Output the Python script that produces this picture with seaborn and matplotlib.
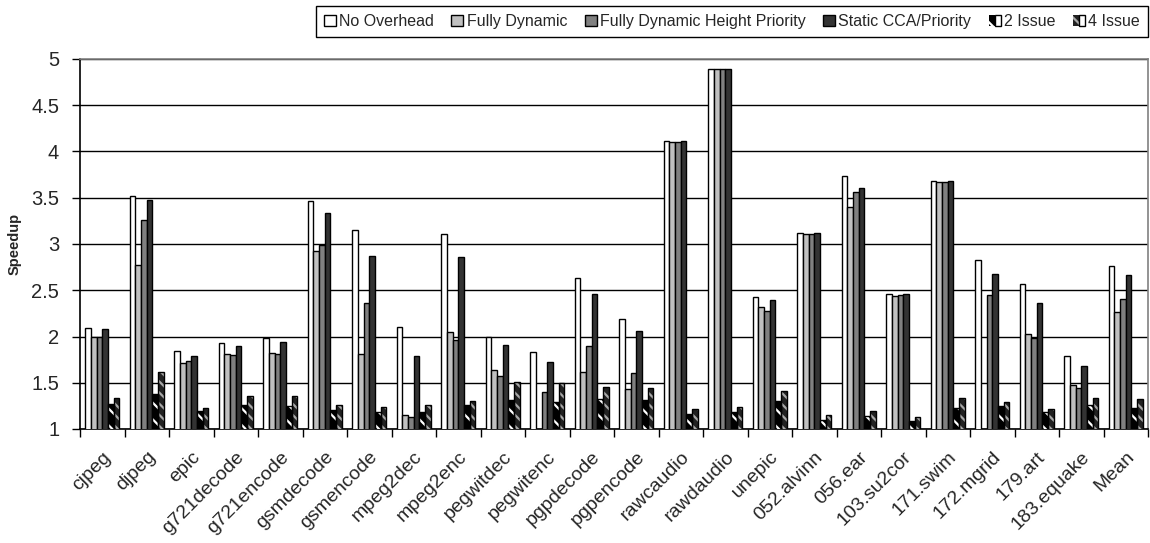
import numpy as np
import pandas as pd
import matplotlib
matplotlib.use("Agg")
import matplotlib.pyplot as plt
import seaborn as sns
from matplotlib.patches import Rectangle, Patch
from matplotlib.legend_handler import HandlerTuple

benchmarks = ["cjpeg", "djpeg", "epic", "g721decode", "g721encode", "gsmdecode",
              "gsmencode", "mpeg2dec", "mpeg2enc", "pegwitdec", "pegwitenc",
              "pgpdecode", "pgpencode", "rawcaudio", "rawdaudio", "unepic",
              "052.alvinn", "056.ear", "103.su2cor", "171.swim", "172.mgrid",
              "179.art", "183.equake", "Mean"]

no_overhead = [2.09, 3.52, 1.84, 1.93, 1.98, 3.46, 3.15, 2.10, 3.11, 2.00, 1.83,
               2.63, 2.19, 4.11, 4.89, 2.43, 3.12, 3.73, 2.46, 3.68, 2.83, 2.57, 1.79, 2.76]
fully_dynamic = [2.00, 2.77, 1.71, 1.81, 1.82, 2.92, 1.81, 1.15, 2.05, 1.64, np.nan,
                 1.62, 1.43, 4.10, 4.89, 2.32, 3.11, 3.40, 2.44, 3.67, np.nan, 2.03, 1.48, 2.27]
fully_dynamic_hp = [2.00, 3.26, 1.73, 1.80, 1.81, 2.99, 2.36, 1.13, 1.96, 1.57, 1.40,
                    1.90, 1.61, 4.10, 4.89, 2.28, 3.11, 3.56, 2.45, 3.67, 2.45, 1.98, 1.44, 2.41]
static_cca = [2.08, 3.48, 1.79, 1.90, 1.94, 3.33, 2.87, 1.79, 2.86, 1.91, 1.72,
              2.46, 2.06, 4.11, 4.89, 2.40, 3.12, 3.61, 2.46, 3.68, 2.68, 2.36, 1.68, 2.66]
issue2 = [1.27, 1.38, 1.20, 1.26, 1.25, 1.21, 1.18, 1.18, 1.26, 1.31, 1.29,
          1.32, 1.31, 1.16, 1.18, 1.30, 1.10, 1.14, 1.09, 1.23, 1.25, 1.18, 1.26, 1.23]
issue4 = [1.34, 1.62, 1.23, 1.36, 1.36, 1.26, 1.24, 1.26, 1.30, 1.51, 1.50,
          1.45, 1.44, 1.22, 1.24, 1.41, 1.15, 1.19, 1.13, 1.33, 1.29, 1.22, 1.34, 1.32]

series_names = ["No Overhead", "Fully Dynamic", "Fully Dynamic Height Priority",
                "Static CCA/Priority", "2 Issue", "4 Issue"]
series_values = [no_overhead, fully_dynamic, fully_dynamic_hp, static_cca, issue2, issue4]

face_colors = ["#ffffff", "#c0c0c0", "#808080", "#333333", "#000000", "#222222"]
hatch_specs = [None, None, None, None, ("\\\\", "#ffffff"), ("\\\\\\", "#a8a8a8")]

rows = []
for name, vals in zip(series_names, series_values):
    for b, v in zip(benchmarks, vals):
        rows.append({"Benchmark": b, "Series": name, "Speedup": v})
df = pd.DataFrame(rows)

sns.set_theme(style="white")
plt.rcParams["font.family"] = ["Liberation Sans", "DejaVu Sans"]
plt.rcParams["hatch.linewidth"] = 1.6

fig = plt.figure(figsize=(11.5, 5.43), dpi=100)
ax = fig.add_axes([80 / 1150, 1 - 429 / 543, 1068 / 1150, (429 - 59) / 543])

sns.barplot(data=df, x="Benchmark", y="Speedup", hue="Series",
            order=benchmarks, hue_order=series_names,
            palette=dict(zip(series_names, face_colors)), saturation=1,
            width=0.76, gap=0, edgecolor="black", linewidth=1.0,
            errorbar=None, legend=False, ax=ax, zorder=3)

for cont, spec in zip(ax.containers, hatch_specs):
    if spec is None:
        continue
    hatch, hcol = spec
    for bar in cont:
        if np.isnan(bar.get_height()):
            continue
        bar.set_hatch(hatch)
        bar.set_edgecolor(hcol)
        bar.set_linewidth(0)
        ax.add_patch(Rectangle(bar.get_xy(), bar.get_width(), bar.get_height(),
                               fill=False, edgecolor="black", linewidth=1.0, zorder=4))

ax.set_ylim(1, 5)
ax.set_xlim(-0.5, len(benchmarks) - 0.5)
yt = np.arange(1, 5.01, 0.5)
ax.set_yticks(yt)
ax.set_yticklabels([f"{v:g}" for v in yt], fontsize=14.5)
ax.yaxis.grid(True, color="black", linewidth=1.0, zorder=0)
ax.set_axisbelow(True)

ax.set_xticks(range(len(benchmarks)))
ax.set_xticklabels(benchmarks, rotation=45, ha="right", rotation_mode="anchor", fontsize=14)
ax.set_xticks(np.arange(-0.5, len(benchmarks), 1.0), minor=True)
ax.tick_params(axis="x", which="major", length=0, pad=14)
ax.tick_params(axis="x", which="minor", length=6, width=1, color="black", direction="out", bottom=True)
ax.tick_params(axis="y", which="major", length=6, width=1, color="black", direction="out", left=True, pad=9)
ax.set_xlabel("")
ax.set_ylabel("Speedup", fontsize=10.5, fontweight="bold", labelpad=7)

ax.spines["left"].set_color("black")
ax.spines["bottom"].set_color("black")
ax.spines["top"].set_color("#808080")
ax.spines["right"].set_color("#808080")
for s in ax.spines.values():
    s.set_linewidth(1.2)
    s.set_visible(True)

handles = []
for name, fc, spec in zip(series_names, face_colors, hatch_specs):
    if spec is None:
        handles.append(Patch(facecolor=fc, edgecolor="black", linewidth=1.0))
    else:
        handles.append((Patch(facecolor=fc, edgecolor=spec[1], hatch=spec[0], linewidth=0),
                        Patch(fill=False, edgecolor="black", linewidth=1.0)))

leg = fig.legend(handles=handles, labels=series_names, loc="upper right",
                 bbox_to_anchor=(1148 / 1150, 1 - 6 / 543),
                 handler_map={tuple: HandlerTuple(ndivide=None, pad=0)},
                 ncol=6, frameon=True, fancybox=False, edgecolor="black", framealpha=1,
                 fontsize=11.5, handlelength=0.75, handleheight=0.75, handletextpad=0.2,
                 columnspacing=1.1, borderpad=0.5, borderaxespad=0)
leg.get_frame().set_linewidth(1.0)

fig.savefig("out.png", dpi=100)
